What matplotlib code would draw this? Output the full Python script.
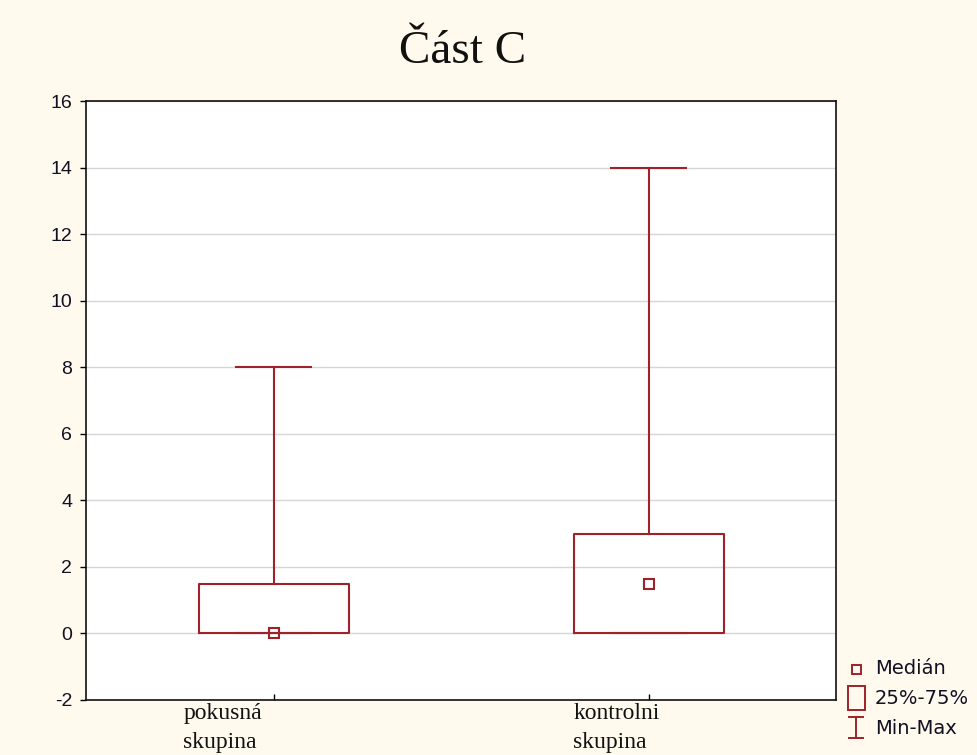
import matplotlib.pyplot as plt
from matplotlib.lines import Line2D
from matplotlib.patches import Rectangle

# data
groups = ['pokusná\nskupina', 'kontrolni\nskupina']
mins = [0, 0]
q1s = [0, 0]
medians = [0, 1.5]
q3s = [1.5, 3]
maxs = [8, 14]
yticks = [-2, 0, 2, 4, 6, 8, 10, 12, 14, 16]

red = '#9e2229'
bg = '#fff9ee'

fig = plt.figure(figsize=(9.77, 7.55), dpi=100, facecolor=bg)
ax = fig.add_axes([86 / 977, 1 - 700 / 755, 750 / 977, 599 / 755])
ax.set_facecolor('white')

pos = [1, 2]
stats = []
for i in range(len(groups)):
    stats.append({'whislo': mins[i], 'q1': q1s[i], 'med': medians[i],
                  'q3': q3s[i], 'whishi': maxs[i], 'fliers': []})

ax.bxp(stats, positions=pos, widths=0.4, capwidths=0.2, showfliers=False,
       boxprops=dict(color=red, linewidth=1.5),
       whiskerprops=dict(color=red, linewidth=1.5),
       capprops=dict(color=red, linewidth=1.5),
       medianprops=dict(linestyle='none'))
ax.plot(pos, medians, linestyle='none', marker='s', markersize=7,
        markerfacecolor='none', markeredgecolor=red, markeredgewidth=1.5,
        zorder=5)

ax.set_xlim(0.5, 2.5)
ax.set_ylim(-2, 16)
ax.set_yticks(yticks)
ax.set_yticklabels([str(t) for t in yticks], fontfamily='Liberation Sans',
                   fontsize=14, color='#111122')
ax.yaxis.grid(True, color='#d6d6d6', linewidth=1)
ax.set_axisbelow(True)
ax.tick_params(axis='y', direction='out', length=4, width=1, pad=6)
ax.set_xticks(pos)
ax.set_xticklabels(['', ''])
ax.tick_params(axis='x', direction='in', length=4, width=1)
for s in ax.spines.values():
    s.set_linewidth(1.2)
    s.set_color('#111111')

# category labels, set left of the ticks as in the original
offsets = [-0.24, -0.2]
for p, lab, off in zip(pos, groups, offsets):
    ax.text(p + off, -2.1, lab, ha='left', va='top', fontfamily='Liberation Serif',
            fontsize=17, color='#111111', linespacing=1.45)

fig.text(463 / 977, 1 - 52 / 755, 'Část C', ha='center', va='center',
         fontfamily='Liberation Serif', fontsize=34, color='#111111')

# legend
def fx(x):
    return x / 977


def fy(y):
    return 1 - y / 755


fig.add_artist(Rectangle((fx(852), fy(674)), fx(9), 9 / 755, fill=False,
                         edgecolor=red, linewidth=1.4, transform=fig.transFigure))
fig.add_artist(Rectangle((fx(848), fy(710)), fx(17), 24 / 755, fill=False,
                         edgecolor=red, linewidth=1.4, transform=fig.transFigure))
fig.add_artist(Line2D([fx(856), fx(856)], [fy(717), fy(738)], color=red,
                      linewidth=1.4, transform=fig.transFigure))
fig.add_artist(Line2D([fx(849), fx(863)], [fy(717), fy(717)], color=red,
                      linewidth=1.4, transform=fig.transFigure))
fig.add_artist(Line2D([fx(849), fx(863)], [fy(738), fy(738)], color=red,
                      linewidth=1.4, transform=fig.transFigure))
for txt, y in [('Medián', 669), ('25%-75%', 698), ('Min-Max', 729)]:
    fig.text(fx(875), fy(y), txt, ha='left', va='center', fontfamily='DejaVu Sans',
             fontsize=14, color='#111122')

fig.savefig('out.png', dpi=100, facecolor=bg)
